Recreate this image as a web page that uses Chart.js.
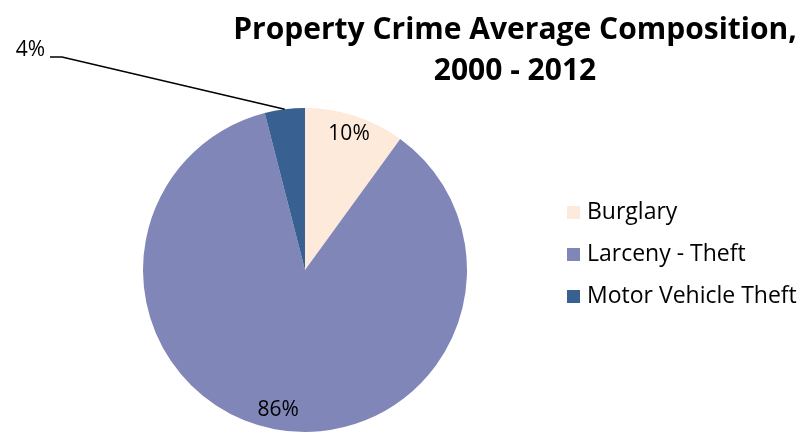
<!DOCTYPE html>
<html>
<head>
<meta charset="utf-8">
<script src="https://cdn.jsdelivr.net/npm/chart.js@4/dist/chart.umd.min.js"></script>
<style>
  html, body { margin: 0; padding: 0; background: #fff; }
  #wrap { width: 810px; height: 433px; position: relative; }
</style>
</head>
<body>
<div id="wrap"><canvas id="myChart" width="810" height="433"></canvas></div>
<script>
(() => {
  'use strict';
  const categories = ['Burglary', 'Larceny - Theft', 'Motor Vehicle Theft'];
  const shares = [10, 86, 4];
  const sliceColors = ['#FDEADA', '#8086B8', '#386090'];
  const titleLines = ['Property Crime Average Composition,', '2000 - 2012'];

  // labels, leader line, title and legend drawn on top of the pie
  const decorations = {
    id: 'decorations',
    afterDraw(chart) {
      const c = chart.ctx;
      const arcs = chart.getDatasetMeta(0).data;
      c.save();
      c.fillStyle = '#000';

      // title
      c.font = 'bold 30px "Open Sans", sans-serif';
      c.textAlign = 'center';
      c.textBaseline = 'middle';
      c.fillText(titleLines[0], 515, 30, 578);
      c.fillText(titleLines[1], 515, 71);

      // data labels
      c.font = '21px "Open Sans", sans-serif';
      arcs.forEach((arc, i) => {
        const p = arc.getProps(['x', 'y', 'startAngle', 'endAngle', 'outerRadius'], true);
        const mid = (p.startAngle + p.endAngle) / 2;
        const txt = shares[i] + '%';
        if (shares[i] < 5) {
          // outside label with leader line
          const ex = p.x + Math.cos(mid) * p.outerRadius;
          const ey = p.y + Math.sin(mid) * p.outerRadius;
          c.strokeStyle = '#000';
          c.lineWidth = 1.5;
          c.beginPath();
          c.moveTo(ex, ey);
          c.lineTo(62, 57);
          c.lineTo(50, 57);
          c.stroke();
          c.textAlign = 'right';
          c.fillText(txt, 45, 50);
        } else {
          const r = p.outerRadius * 0.88;
          c.textAlign = 'center';
          c.fillText(txt, p.x + Math.cos(mid) * r, p.y + Math.sin(mid) * r);
        }
      });

      // legend
      c.font = '23px "Open Sans", sans-serif';
      c.textAlign = 'left';
      categories.forEach((name, i) => {
        const y = 212 + i * 42;
        c.fillStyle = sliceColors[i];
        c.fillRect(567, y - 6, 13, 13);
        c.fillStyle = '#000';
        c.fillText(name, 587, y, 218);
      });
      c.restore();
    }
  };

  const ctx = document.getElementById('myChart');
  // eslint-disable-next-line no-unused-vars
  const myChart = new Chart(ctx, {
    type: 'pie',
    data: {
      labels: categories,
      datasets: [{
        data: shares,
        backgroundColor: sliceColors,
        borderWidth: 0
      }]
    },
    options: {
      responsive: false,
      animation: false,
      layout: { padding: { left: 143, right: 343, top: 108, bottom: 1 } },
      plugins: {
        legend: { display: false },
        tooltip: { enabled: false }
      }
    },
    plugins: [decorations]
  });
})();
</script>
</body>
</html>
